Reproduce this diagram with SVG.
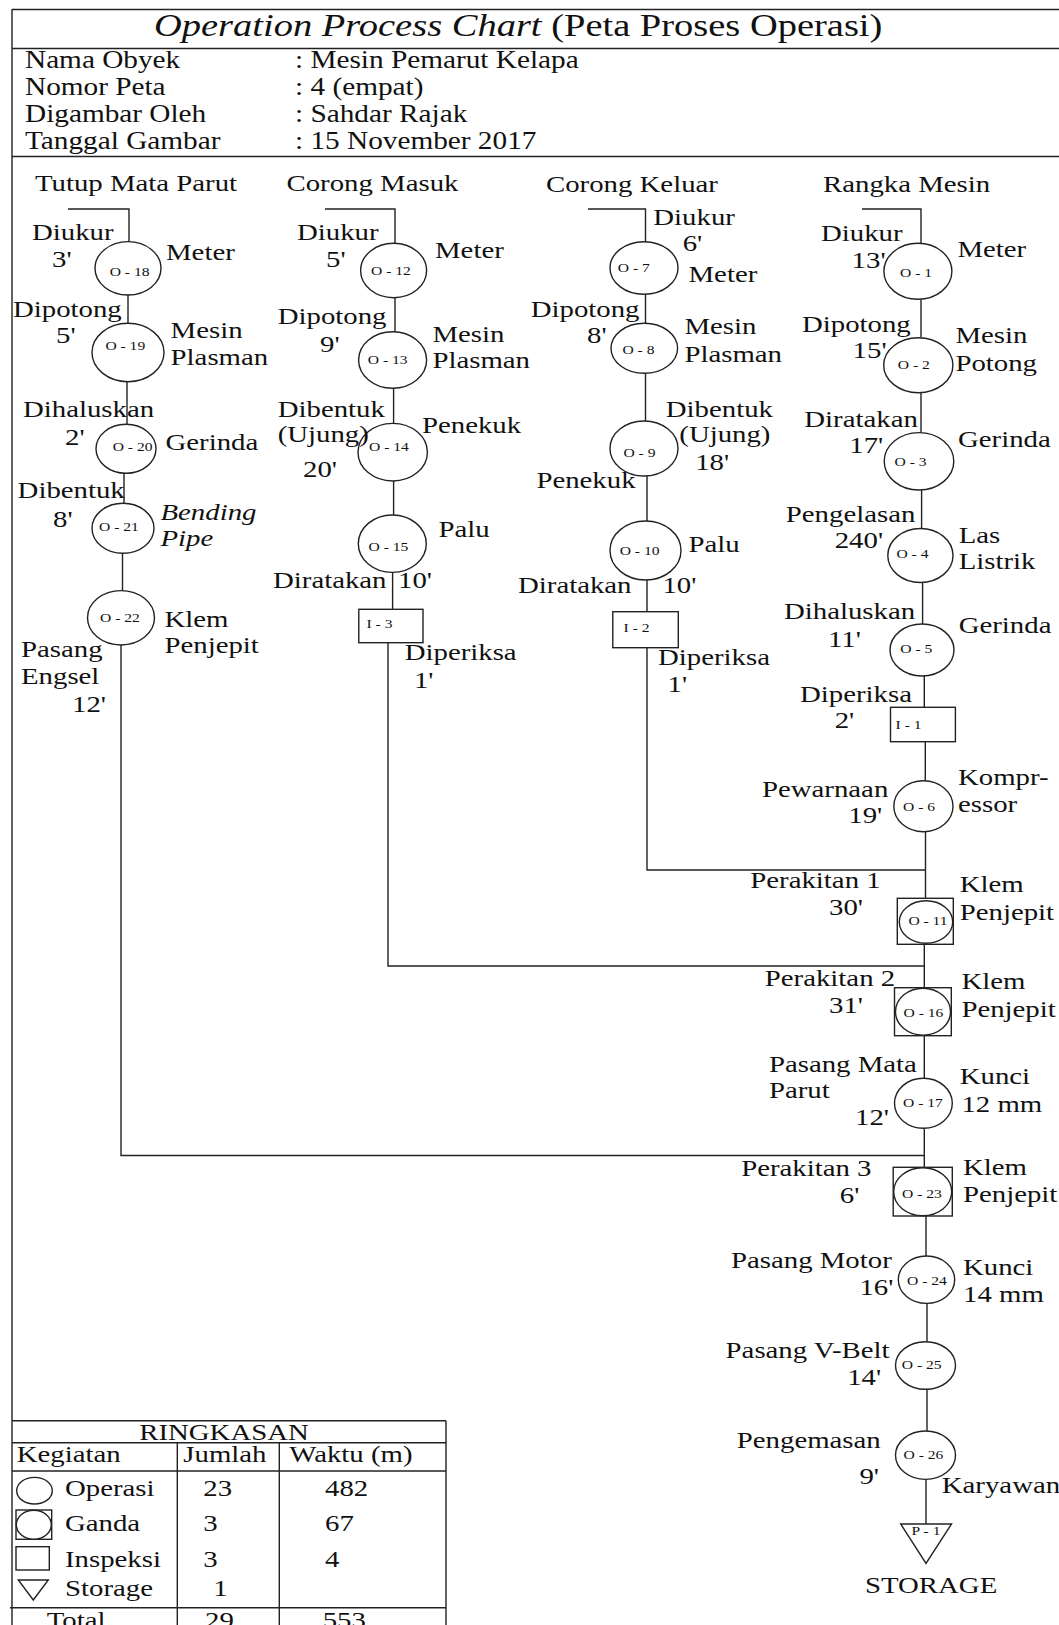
<svg xmlns="http://www.w3.org/2000/svg" width="1059" height="1625" viewBox="0 0 1059 1625">
<style>
.t{font-family:"Liberation Serif","Times New Roman",serif;font-size:24px;fill:#111}
.i{font-style:italic}
.h{font-size:24.4px}
.lb{font-family:"Liberation Serif","Times New Roman",serif;font-size:13px;fill:#111}
.m{text-anchor:middle}
.s{fill:none;stroke:#222;stroke-width:1.4}
.c{fill:#fff;stroke:#222;stroke-width:1.4}
</style>
<rect width="1059" height="1625" fill="#fff"/>
<g id="frame" class="s">
<line x1="12" y1="9.5" x2="1059" y2="9.5"/>
<line x1="12" y1="48.5" x2="1059" y2="48.5"/>
<line x1="12" y1="156.5" x2="1059" y2="156.5"/>
<line x1="12" y1="9" x2="12" y2="1625"/>
</g>
<g id="header">
<text class="t" transform="translate(154 36) scale(1.2 1)" style="font-size:32.5px" textLength="607" lengthAdjust="spacingAndGlyphs"><tspan class="i">Operation Process Chart</tspan> (Peta Proses Operasi)</text>
<text class="t h" transform="translate(25 68) scale(1.2 1)">Nama Obyek</text>
<text class="t h" transform="translate(25 95) scale(1.2 1)">Nomor Peta</text>
<text class="t h" transform="translate(25 122) scale(1.2 1)">Digambar Oleh</text>
<text class="t h" transform="translate(25 149) scale(1.2 1)">Tanggal Gambar</text>
<text class="t h" transform="translate(295 68) scale(1.2 1)">: Mesin Pemarut Kelapa</text>
<text class="t h" transform="translate(295 95) scale(1.2 1)">: 4 (empat)</text>
<text class="t h" transform="translate(295 122) scale(1.2 1)">: Sahdar Rajak</text>
<text class="t h" transform="translate(295 149) scale(1.2 1)">: 15 November 2017</text>
</g>
<g id="connectors" class="s">
<polyline points="68,209 129,209 129,242"/>
<line x1="128" y1="295" x2="128" y2="323.3"/>
<line x1="127" y1="381.7" x2="127" y2="424.3"/>
<line x1="124" y1="473.3" x2="124" y2="503.3"/>
<line x1="122.5" y1="553.3" x2="122.5" y2="590.7"/>
<polyline points="121,645 121,1155.5 925,1155.5"/>
<polyline points="325,209 395,209 395,243.3"/>
<line x1="395" y1="297.7" x2="395" y2="331.7"/>
<line x1="393.6" y1="388.3" x2="393.6" y2="423.3"/>
<line x1="393.6" y1="481" x2="393.6" y2="515"/>
<line x1="392.6" y1="572.3" x2="392.6" y2="609.3"/>
<polyline points="388,642.7 388,966 925,966"/>
<polyline points="588,209 645.5,209 645.5,241.7"/>
<line x1="645.5" y1="294.3" x2="645.5" y2="323.3"/>
<line x1="645.5" y1="373.3" x2="645.5" y2="421"/>
<line x1="647" y1="476" x2="647" y2="521"/>
<line x1="647" y1="580" x2="647" y2="611.7"/>
<polyline points="647,647.7 647,870 925.5,870"/>
<polyline points="862,209 921,209 921,243.3"/>
<line x1="921" y1="299.3" x2="921" y2="337.7"/>
<line x1="921" y1="392.7" x2="921" y2="432.7"/>
<line x1="921.6" y1="490" x2="921.6" y2="528.5"/>
<line x1="922.6" y1="582.3" x2="922.6" y2="624"/>
<line x1="924.3" y1="676" x2="924.3" y2="707.3"/>
<line x1="925.3" y1="741.7" x2="925.3" y2="780.7"/>
<line x1="925.5" y1="831.7" x2="925.5" y2="898.3"/>
<line x1="924.3" y1="944.3" x2="924.3" y2="987.7"/>
<line x1="924.3" y1="1035.7" x2="924.3" y2="1078.3"/>
<line x1="924.3" y1="1128.3" x2="924.3" y2="1167.3"/>
<line x1="926" y1="1216" x2="926" y2="1256"/>
<line x1="927" y1="1303.3" x2="927" y2="1341.7"/>
<line x1="927" y1="1389.3" x2="927" y2="1431"/>
<line x1="926" y1="1479.3" x2="926" y2="1524"/>
</g>
<g id="col-titles">
<text class="t" transform="translate(35 190.7) scale(1.2 1)">Tutup Mata Parut</text>
<text class="t" transform="translate(286.5 190.7) scale(1.2 1)">Corong Masuk</text>
<text class="t" transform="translate(546 191.7) scale(1.2 1)">Corong Keluar</text>
<text class="t" transform="translate(823 191.7) scale(1.2 1)">Rangka Mesin</text>
</g>
<!-- Column 1 -->
<g id="O-18">
<ellipse class="c" cx="128" cy="268.3" rx="33" ry="26.7"/>
<text class="lb m" transform="translate(129.6 275.5) scale(1.2 1)">O - 18</text>
<text class="t" transform="translate(32 240) scale(1.2 1)">Diukur</text>
<text class="t" transform="translate(52 267.3) scale(1.2 1)">3'</text>
<text class="t" transform="translate(166 260) scale(1.2 1)">Meter</text>
</g>
<g id="O-19">
<ellipse class="c" cx="128" cy="352.5" rx="36" ry="29.2"/>
<text class="lb m" transform="translate(125.3 350) scale(1.2 1)">O - 19</text>
<text class="t" transform="translate(13 316.7) scale(1.2 1)">Dipotong</text>
<text class="t" transform="translate(56 343.3) scale(1.2 1)">5'</text>
<text class="t" transform="translate(170.6 338.3) scale(1.2 1)">Mesin</text>
<text class="t" transform="translate(170.6 365) scale(1.2 1)">Plasman</text>
</g>
<g id="O-20">
<ellipse class="c" cx="126" cy="448.8" rx="30" ry="24.5"/>
<text class="lb m" transform="translate(132.6 450.5) scale(1.2 1)">O - 20</text>
<text class="t" transform="translate(23 416.7) scale(1.2 1)">Dihaluskan</text>
<text class="t" transform="translate(65 445) scale(1.2 1)">2'</text>
<text class="t" transform="translate(165.5 450) scale(1.2 1)">Gerinda</text>
</g>
<g id="O-21">
<ellipse class="c" cx="123" cy="528.3" rx="31" ry="25"/>
<text class="lb m" transform="translate(119 530.5) scale(1.2 1)">O - 21</text>
<text class="t" transform="translate(17.6 498.3) scale(1.2 1)">Dibentuk</text>
<text class="t" transform="translate(53 526.7) scale(1.2 1)">8'</text>
<text class="t i" transform="translate(160.5 519.5) scale(1.2 1)">Bending</text>
<text class="t i" transform="translate(160.5 546) scale(1.2 1)">Pipe</text>
</g>
<g id="O-22">
<ellipse class="c" cx="121" cy="617.8" rx="33.5" ry="27.2"/>
<text class="lb m" transform="translate(120 621.8) scale(1.2 1)">O - 22</text>
<text class="t" transform="translate(164.5 626.7) scale(1.2 1)">Klem</text>
<text class="t" transform="translate(164.5 653.3) scale(1.2 1)">Penjepit</text>
<text class="t" transform="translate(21 657.3) scale(1.2 1)">Pasang</text>
<text class="t" transform="translate(21 684.3) scale(1.2 1)">Engsel</text>
<text class="t" transform="translate(72 711.7) scale(1.2 1)">12'</text>
</g>
<!-- Column 2 -->
<g id="O-12">
<ellipse class="c" cx="393.6" cy="270.5" rx="33" ry="27.2"/>
<text class="lb m" transform="translate(391 275) scale(1.2 1)">O - 12</text>
<text class="t" transform="translate(297 240) scale(1.2 1)">Diukur</text>
<text class="t" transform="translate(326 267.3) scale(1.2 1)">5'</text>
<text class="t" transform="translate(435 258.3) scale(1.2 1)">Meter</text>
</g>
<g id="O-13">
<ellipse class="c" cx="392.6" cy="360" rx="34" ry="28.3"/>
<text class="lb m" transform="translate(387.7 363.8) scale(1.2 1)">O - 13</text>
<text class="t" transform="translate(277.7 324) scale(1.2 1)">Dipotong</text>
<text class="t" transform="translate(320 351.7) scale(1.2 1)">9'</text>
<text class="t" transform="translate(432.4 341.7) scale(1.2 1)">Mesin</text>
<text class="t" transform="translate(432.4 368.3) scale(1.2 1)">Plasman</text>
</g>
<g id="O-14">
<ellipse class="c" cx="392.7" cy="452.2" rx="34.7" ry="28.8"/>
<text class="t" transform="translate(277.7 417.3) scale(1.2 1)">Dibentuk</text>
<text class="t" transform="translate(277.7 441.7) scale(1.2 1)">(Ujung)</text>
<text class="t" transform="translate(303 476.7) scale(1.2 1)">20'</text>
<text class="lb m" transform="translate(389 450.5) scale(1.2 1)">O - 14</text>
<text class="t" transform="translate(422 433.3) scale(1.2 1)">Penekuk</text>
</g>
<g id="O-15">
<ellipse class="c" cx="392.3" cy="543.7" rx="34" ry="28.7"/>
<text class="lb m" transform="translate(388.5 550.5) scale(1.2 1)">O - 15</text>
<text class="t" transform="translate(438.5 536.7) scale(1.2 1)">Palu</text>
<text class="t" transform="translate(273 588.3) scale(1.2 1)">Diratakan</text>
<text class="t" transform="translate(398 588.3) scale(1.2 1)">10'</text>
</g>
<g id="I-3">
<rect class="c" x="358.8" y="609.3" width="64.2" height="33.4"/>
<text class="lb" transform="translate(366.5 627.8) scale(1.2 1)">I - 3</text>
<text class="t" transform="translate(404.7 660) scale(1.2 1)">Diperiksa</text>
<text class="t" transform="translate(413.9 688.3) scale(1.2 1)">1'</text>
</g>
<!-- Column 3 -->
<g id="O-7">
<ellipse class="c" cx="644" cy="268" rx="34" ry="26.3"/>
<text class="lb m" transform="translate(633.8 272) scale(1.2 1)">O - 7</text>
<text class="t" transform="translate(653.3 225) scale(1.2 1)">Diukur</text>
<text class="t" transform="translate(682.7 250.7) scale(1.2 1)">6'</text>
<text class="t" transform="translate(688.5 281.7) scale(1.2 1)">Meter</text>
</g>
<g id="O-8">
<ellipse class="c" cx="644.3" cy="348.3" rx="33.3" ry="25"/>
<text class="lb m" transform="translate(638.4 353.5) scale(1.2 1)">O - 8</text>
<text class="t" transform="translate(530.7 316.7) scale(1.2 1)">Dipotong</text>
<text class="t" transform="translate(587 343.3) scale(1.2 1)">8'</text>
<text class="t" transform="translate(684.4 334) scale(1.2 1)">Mesin</text>
<text class="t" transform="translate(684.4 361.7) scale(1.2 1)">Plasman</text>
</g>
<g id="O-9">
<ellipse class="c" cx="644" cy="448.5" rx="34" ry="27.5"/>
<text class="lb m" transform="translate(639.4 456.8) scale(1.2 1)">O - 9</text>
<text class="t" transform="translate(665.8 416.7) scale(1.2 1)">Dibentuk</text>
<text class="t" transform="translate(679.3 441.7) scale(1.2 1)">(Ujung)</text>
<text class="t" transform="translate(695.2 470) scale(1.2 1)">18'</text>
<text class="t" transform="translate(536.4 488.3) scale(1.2 1)">Penekuk</text>
</g>
<g id="O-10">
<ellipse class="c" cx="645.5" cy="550.5" rx="35.5" ry="29.5"/>
<text class="lb m" transform="translate(639.6 554.5) scale(1.2 1)">O - 10</text>
<text class="t" transform="translate(688.5 551.7) scale(1.2 1)">Palu</text>
<text class="t" transform="translate(518 592.7) scale(1.2 1)">Diratakan</text>
<text class="t" transform="translate(662.4 592.7) scale(1.2 1)">10'</text>
</g>
<g id="I-2">
<rect class="c" x="612.8" y="611.7" width="65.5" height="36"/>
<text class="lb" transform="translate(623.6 631.8) scale(1.2 1)">I - 2</text>
<text class="t" transform="translate(658 665) scale(1.2 1)">Diperiksa</text>
<text class="t" transform="translate(667.5 691.7) scale(1.2 1)">1'</text>
</g>
<!-- Column 4 -->
<g id="O-1">
<ellipse class="c" cx="917.9" cy="271.3" rx="34" ry="28"/>
<text class="lb m" transform="translate(916 277) scale(1.2 1)">O - 1</text>
<text class="t" transform="translate(821 241) scale(1.2 1)">Diukur</text>
<text class="t" transform="translate(851.6 268.3) scale(1.2 1)">13'</text>
<text class="t" transform="translate(957.4 256.7) scale(1.2 1)">Meter</text>
</g>
<g id="O-2">
<ellipse class="c" cx="918.3" cy="365.2" rx="34.6" ry="27.5"/>
<text class="lb m" transform="translate(913.8 368.5) scale(1.2 1)">O - 2</text>
<text class="t" transform="translate(802 331.7) scale(1.2 1)">Dipotong</text>
<text class="t" transform="translate(852.6 358.3) scale(1.2 1)">15'</text>
<text class="t" transform="translate(955.4 343.3) scale(1.2 1)">Mesin</text>
<text class="t" transform="translate(955.4 370.7) scale(1.2 1)">Potong</text>
</g>
<g id="O-3">
<ellipse class="c" cx="919" cy="461.3" rx="34.8" ry="28.7"/>
<text class="lb m" transform="translate(910.5 466) scale(1.2 1)">O - 3</text>
<text class="t" transform="translate(804.3 426.7) scale(1.2 1)">Diratakan</text>
<text class="t" transform="translate(849.3 453.3) scale(1.2 1)">17'</text>
<text class="t" transform="translate(958 447.3) scale(1.2 1)">Gerinda</text>
</g>
<g id="O-4">
<ellipse class="c" cx="920.4" cy="555.5" rx="32.6" ry="27"/>
<text class="lb m" transform="translate(912.4 557.8) scale(1.2 1)">O - 4</text>
<text class="t" transform="translate(785.8 521.7) scale(1.2 1)">Pengelasan</text>
<text class="t" transform="translate(834.7 548.3) scale(1.2 1)">240'</text>
<text class="t" transform="translate(958.7 542.7) scale(1.2 1)">Las</text>
<text class="t" transform="translate(958.7 569.3) scale(1.2 1)">Listrik</text>
</g>
<g id="O-5">
<ellipse class="c" cx="922" cy="650" rx="32" ry="26"/>
<text class="lb m" transform="translate(916.3 652.8) scale(1.2 1)">O - 5</text>
<text class="t" transform="translate(784 619.3) scale(1.2 1)">Dihaluskan</text>
<text class="t" transform="translate(828 646.7) scale(1.2 1)">11'</text>
<text class="t" transform="translate(958.7 633.3) scale(1.2 1)">Gerinda</text>
</g>
<g id="I-1">
<rect class="c" x="890.5" y="707.3" width="64.9" height="34.4"/>
<text class="lb" transform="translate(895.6 728.5) scale(1.2 1)">I - 1</text>
<text class="t" transform="translate(800 701.7) scale(1.2 1)">Diperiksa</text>
<text class="t" transform="translate(834.7 728.3) scale(1.2 1)">2'</text>
</g>
<g id="O-6">
<ellipse class="c" cx="923.4" cy="806.2" rx="29.6" ry="25.5"/>
<text class="lb m" transform="translate(919 811) scale(1.2 1)">O - 6</text>
<text class="t" transform="translate(762 796.7) scale(1.2 1)">Pewarnaan</text>
<text class="t" transform="translate(848.3 822.7) scale(1.2 1)">19'</text>
<text class="t" transform="translate(958 785) scale(1.2 1)">Kompr-</text>
<text class="t" transform="translate(958 811.7) scale(1.2 1)">essor</text>
</g>
<g id="O-11">
<rect class="c" x="897.3" y="898.3" width="56" height="46"/>
<ellipse class="c" cx="926" cy="922" rx="26.7" ry="21.3"/>
<text class="lb m" transform="translate(928 925) scale(1.2 1)">O - 11</text>
<text class="t" transform="translate(750.3 888.3) scale(1.2 1)">Perakitan 1</text>
<text class="t" transform="translate(829 915) scale(1.2 1)">30'</text>
<text class="t" transform="translate(959.7 891.7) scale(1.2 1)">Klem</text>
<text class="t" transform="translate(959.7 920) scale(1.2 1)">Penjepit</text>
</g>
<g id="O-16">
<rect class="c" x="894.5" y="987.7" width="56.8" height="48"/>
<ellipse class="c" cx="923" cy="1011.7" rx="27.5" ry="23.5"/>
<text class="lb m" transform="translate(923.4 1016.8) scale(1.2 1)">O - 16</text>
<text class="t" transform="translate(764.8 986) scale(1.2 1)">Perakitan 2</text>
<text class="t" transform="translate(829 1013.3) scale(1.2 1)">31'</text>
<text class="t" transform="translate(961.4 989.3) scale(1.2 1)">Klem</text>
<text class="t" transform="translate(961.4 1016.7) scale(1.2 1)">Penjepit</text>
</g>
<g id="O-17">
<ellipse class="c" cx="923.4" cy="1103.3" rx="28.9" ry="25"/>
<text class="lb m" transform="translate(923 1106.8) scale(1.2 1)">O - 17</text>
<text class="t" transform="translate(768.9 1071.7) scale(1.2 1)">Pasang Mata</text>
<text class="t" transform="translate(768.9 1098.3) scale(1.2 1)">Parut</text>
<text class="t" transform="translate(855 1125) scale(1.2 1)">12'</text>
<text class="t" transform="translate(959.7 1084) scale(1.2 1)">Kunci</text>
<text class="t" transform="translate(961.4 1111.7) scale(1.2 1)">12 mm</text>
</g>
<g id="O-23">
<rect class="c" x="893.2" y="1167.3" width="59.1" height="48.7"/>
<ellipse class="c" cx="922.7" cy="1191.7" rx="29" ry="24"/>
<text class="lb m" transform="translate(922 1197.8) scale(1.2 1)">O - 23</text>
<text class="t" transform="translate(741.2 1176) scale(1.2 1)">Perakitan 3</text>
<text class="t" transform="translate(839.8 1202.7) scale(1.2 1)">6'</text>
<text class="t" transform="translate(963 1175) scale(1.2 1)">Klem</text>
<text class="t" transform="translate(963 1201.7) scale(1.2 1)">Penjepit</text>
</g>
<g id="O-24">
<ellipse class="c" cx="926.5" cy="1279.7" rx="28.2" ry="23.7"/>
<text class="lb m" transform="translate(927 1285) scale(1.2 1)">O - 24</text>
<text class="t" transform="translate(731 1268.3) scale(1.2 1)">Pasang Motor</text>
<text class="t" transform="translate(859.4 1295) scale(1.2 1)">16'</text>
<text class="t" transform="translate(963 1275) scale(1.2 1)">Kunci</text>
<text class="t" transform="translate(963 1301.7) scale(1.2 1)">14 mm</text>
</g>
<g id="O-25">
<ellipse class="c" cx="925.5" cy="1365.5" rx="30" ry="23.8"/>
<text class="lb m" transform="translate(921.7 1368.5) scale(1.2 1)">O - 25</text>
<text class="t" transform="translate(725.6 1358.3) scale(1.2 1)">Pasang V-Belt</text>
<text class="t" transform="translate(847.2 1385) scale(1.2 1)">14'</text>
</g>
<g id="O-26">
<ellipse class="c" cx="925.5" cy="1455.2" rx="30" ry="24.2"/>
<text class="lb m" transform="translate(923.4 1458.8) scale(1.2 1)">O - 26</text>
<text class="t" transform="translate(736.8 1448.3) scale(1.2 1)">Pengemasan</text>
<text class="t" transform="translate(859.4 1484) scale(1.2 1)">9'</text>
<text class="t" transform="translate(941.8 1493.3) scale(1.2 1)">Karyawan</text>
</g>
<g id="P-1">
<polygon class="c" points="900.7,1524 951.5,1524 926,1563.5"/>
<text class="lb m" transform="translate(926 1534.5) scale(1.2 1)">P - 1</text>
<text class="t" transform="translate(865 1593) scale(1.2 1)">STORAGE</text>
</g>
<!-- Summary table -->
<g id="ringkasan">
<g class="s">
<line x1="12" y1="1420.7" x2="446" y2="1420.7"/>
<line x1="12" y1="1442.7" x2="446" y2="1442.7"/>
<line x1="12" y1="1471" x2="446" y2="1471"/>
<line x1="10" y1="1607.7" x2="446" y2="1607.7"/>
<line x1="446" y1="1420.7" x2="446" y2="1625"/>
<line x1="177.3" y1="1442.7" x2="177.3" y2="1625"/>
<line x1="279.3" y1="1442.7" x2="279.3" y2="1625"/>
</g>
<text class="t m" transform="translate(224 1440) scale(1.2 1)">RINGKASAN</text>
<text class="t" transform="translate(16.7 1461.7) scale(1.2 1)">Kegiatan</text>
<text class="t" transform="translate(183.3 1461.7) scale(1.2 1)">Jumlah</text>
<text class="t" transform="translate(289.3 1461.7) scale(1.2 1)">Waktu (m)</text>
<ellipse class="c" cx="34.5" cy="1490.7" rx="17.8" ry="13.3"/>
<text class="t" transform="translate(65 1496) scale(1.2 1)">Operasi</text>
<text class="t" transform="translate(203.3 1496) scale(1.2 1)">23</text>
<text class="t" transform="translate(325 1496) scale(1.2 1)">482</text>
<rect class="c" x="16" y="1510" width="35.7" height="29.3"/>
<ellipse class="c" cx="33.8" cy="1524.7" rx="17.5" ry="14.5"/>
<text class="t" transform="translate(65 1530.7) scale(1.2 1)">Ganda</text>
<text class="t" transform="translate(203.3 1530.7) scale(1.2 1)">3</text>
<text class="t" transform="translate(325 1530.7) scale(1.2 1)">67</text>
<rect class="c" x="16" y="1546.7" width="33.3" height="23.3"/>
<text class="t" transform="translate(65 1566.7) scale(1.2 1)">Inspeksi</text>
<text class="t" transform="translate(203.3 1566.7) scale(1.2 1)">3</text>
<text class="t" transform="translate(325 1566.7) scale(1.2 1)">4</text>
<polygon class="c" points="18.3,1580 48.3,1580 33.3,1600"/>
<text class="t" transform="translate(65 1595.5) scale(1.2 1)">Storage</text>
<text class="t" transform="translate(213.3 1595.5) scale(1.2 1)">1</text>
<text class="t" transform="translate(46.7 1628) scale(1.2 1)">Total</text>
<text class="t" transform="translate(205 1628) scale(1.2 1)">29</text>
<text class="t" transform="translate(322.7 1628) scale(1.2 1)">553</text>
</g>
</svg>
